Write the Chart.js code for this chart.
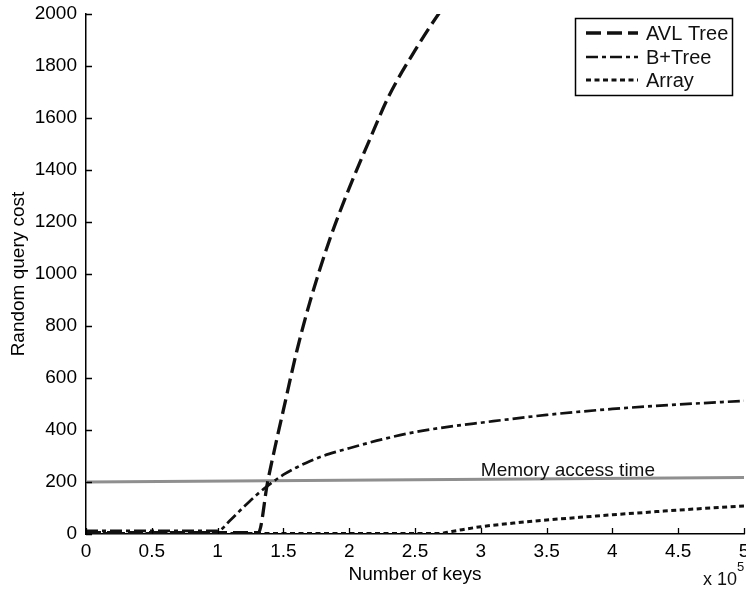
<!DOCTYPE html>
<html>
<head>
<meta charset="utf-8">
<script src="https://cdn.jsdelivr.net/npm/chart.js@4.4.0/dist/chart.umd.min.js"></script>
<style>
html,body{margin:0;padding:0;background:#fff;}
#wrap{width:746px;height:593px;}
</style>
</head>
<body>
<div id="wrap"><canvas id="c" width="746" height="593"></canvas></div>
<script>
// ---- data (x in units of 10^5 keys) ----
const xTickLabels = ['0','0.5','1','1.5','2','2.5','3','3.5','4','4.5','5'];
const yTickLabels = ['0','200','400','600','800','1000','1200','1400','1600','1800','2000'];
const seriesNames = ['AVL Tree','B+Tree','Array'];

const avlX = [0, 0.5, 1.0, 1.31, 1.38, 1.45, 1.5, 1.6, 1.7, 1.85, 2.0, 2.15, 2.3, 2.5, 2.7, 2.8];
const avlY = [5, 5, 5, 5, 200, 365, 477, 700, 890, 1130, 1330, 1510, 1683, 1860, 2015, 2080];

const bptX = [0, 0.5, 1.0, 1.1, 1.2, 1.3, 1.4, 1.5, 1.6, 1.7, 1.8, 1.9, 2.0, 2.25, 2.5, 2.75, 3.0, 3.5, 4.0, 4.5, 5.0];
const bptY = [12, 12, 12, 55, 105, 152, 193, 228, 256, 280, 300, 316, 330, 364, 392, 412, 428, 458, 481, 498, 512];

const arrX = [0, 1.0, 2.0, 2.68, 2.78, 3.0, 3.25, 3.5, 3.75, 4.0, 4.25, 4.5, 4.75, 5.0];
const arrY = [2, 2, 2, 2, 10, 28, 42, 54, 64, 74, 83, 92, 100, 108];

const memX = [0, 5];
const memY = [200, 217];
const memLabel = 'Memory access time';
const memLabelAt = 3.0;

const xAxisTitle = 'Number of keys';
const yAxisTitle = 'Random query cost';
const xMultBase = 'x 10';
const xMultExp = '5';

const toPts = (xs, ys) => xs.map((x, i) => ({x: x, y: ys[i]}));

const FONT = '"Liberation Sans", Arial, Helvetica, sans-serif';
Chart.defaults.font.family = FONT;
Chart.defaults.font.size = 19;
Chart.defaults.color = '#000';

const dashes = [[15, 6], [12, 4, 4, 4], [5, 3.5]];

const decor = {
  id: 'decor',
  afterDraw(chart) {
    const ctx = chart.ctx;
    const xs = chart.scales.x, ys = chart.scales.y;
    const ca = chart.chartArea;
    ctx.save();
    // inward ticks
    ctx.strokeStyle = '#000';
    ctx.lineWidth = 1.3;
    ctx.beginPath();
    xs.ticks.forEach(t => {
      const p = Math.round(xs.getPixelForValue(t.value)) + 0.5;
      ctx.moveTo(p, ca.bottom); ctx.lineTo(p, ca.bottom - 6);
    });
    ys.ticks.forEach(t => {
      const p = Math.round(ys.getPixelForValue(t.value)) + 0.5;
      ctx.moveTo(ca.left, p); ctx.lineTo(ca.left + 6, p);
    });
    ctx.stroke();

    // memory label
    ctx.fillStyle = '#111';
    ctx.font = '19px ' + FONT;
    ctx.textBaseline = 'alphabetic';
    ctx.textAlign = 'left';
    ctx.fillText(memLabel, xs.getPixelForValue(memLabelAt), ys.getPixelForValue(210) - 3);

    // x 10^5
    ctx.font = '18px ' + FONT;
    ctx.fillText(xMultBase, 703, 585);
    ctx.font = '13px ' + FONT;
    ctx.fillText(xMultExp, 737, 571);

    // legend
    const lx = 575, ly = 18, lw = 157, lh = 77;
    ctx.fillStyle = '#fff';
    ctx.fillRect(lx, ly, lw, lh);
    ctx.strokeStyle = '#000';
    ctx.lineWidth = 1.5;
    ctx.setLineDash([]);
    ctx.strokeRect(lx + 0.5, ly + 0.5, lw, lh);
    const rows = [33, 57, 80];
    chart.data.datasets.slice(0, 3).forEach((ds, i) => {
      ctx.save();
      ctx.strokeStyle = ds.borderColor;
      ctx.lineWidth = ds.borderWidth;
      ctx.setLineDash(ds.borderDash);
      ctx.lineCap = 'butt';
      ctx.beginPath();
      ctx.moveTo(586, rows[i]);
      ctx.lineTo(638, rows[i]);
      ctx.stroke();
      ctx.restore();
      ctx.fillStyle = '#111';
      ctx.font = '20px ' + FONT;
      ctx.textBaseline = 'middle';
      ctx.fillText(ds.label, 646, rows[i] + 1);
    });
    ctx.restore();
  }
};

new Chart(document.getElementById('c'), {
  type: 'line',
  data: {
    datasets: [
      {label: seriesNames[0], data: toPts(avlX, avlY), borderColor: '#111', borderWidth: 3.3, borderDash: dashes[0], pointRadius: 0, fill: false, cubicInterpolationMode: 'monotone'},
      {label: seriesNames[1], data: toPts(bptX, bptY), borderColor: '#111', borderWidth: 2.7, borderDash: dashes[1], pointRadius: 0, fill: false, cubicInterpolationMode: 'monotone'},
      {label: seriesNames[2], data: toPts(arrX, arrY), borderColor: '#111', borderWidth: 3, borderDash: dashes[2], pointRadius: 0, fill: false, cubicInterpolationMode: 'monotone'},
      {label: memLabel, data: toPts(memX, memY), borderColor: '#8f8f8f', borderWidth: 3, pointRadius: 0, fill: false}
    ]
  },
  options: {
    responsive: false,
    animation: false,
    devicePixelRatio: 1,
    layout: {padding: {top: 14, right: 2, left: 0, bottom: 0}},
    plugins: {legend: {display: false}, tooltip: {enabled: false}},
    scales: {
      x: {
        type: 'linear', min: 0, max: 5,
        ticks: {stepSize: 0.5, autoSkip: false, maxRotation: 0, padding: 6,
          callback: (v) => xTickLabels[Math.round(v / 0.5)]},
        grid: {drawOnChartArea: false, drawTicks: false},
        border: {color: '#000', width: 1.5},
        title: {display: true, text: xAxisTitle, padding: {top: 0, bottom: 7}},
        afterFit: (s) => { s.height = 59; s.paddingLeft = 0; s.paddingRight = 0; }
      },
      y: {
        type: 'linear', min: 0, max: 2000,
        ticks: {stepSize: 200, padding: 9,
          callback: (v) => yTickLabels[Math.round(v / 200)]},
        grid: {drawOnChartArea: false, drawTicks: false},
        border: {color: '#000', width: 1.5},
        title: {display: true, text: yAxisTitle, padding: {top: 7, bottom: 0}},
        afterFit: (s) => { s.width = 86; s.paddingTop = 0; s.paddingBottom = 0; }
      }
    }
  },
  plugins: [decor]
});
</script>
</body>
</html>
